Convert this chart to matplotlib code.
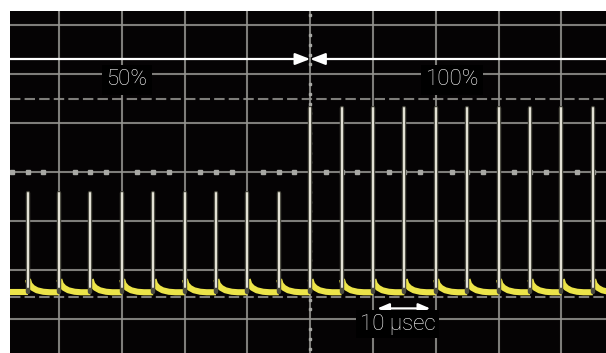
import matplotlib.pyplot as plt

# pulse train
# time in usec (1 division = 10 usec), levels in vertical divisions
pulse_times = [-45, -40, -35, -30, -25, -20, -15, -10, -5,
               0, 5, 10, 15, 20, 25, 30, 35, 40, 45]
pulse_peaks = [-0.43, -0.43, -0.43, -0.43, -0.43, -0.43, -0.43, -0.43, -0.43,
               1.31, 1.31, 1.31, 1.31, 1.31, 1.31, 1.31, 1.31, 1.31, 1.31]
baseline = -2.45

# decay tail after each spike (usec after pulse, divisions above baseline)
tail_dt = [0.05, 0.3, 0.8, 1.5, 2.5, 3.5]
tail_h = [0.26, 0.16, 0.09, 0.04, 0.01, 0.0]

x_grid = [-40, -30, -20, -10, 0, 10, 20, 30, 40]
y_grid = [-3, -2, -1, 0, 1, 2, 3]
ref_levels = [1.5, -2.55]

labels = ['50%', '100%']
label_x = [-29.2, 22.6]

fig = plt.figure(figsize=(6.06, 3.53), dpi=100)
fig.patch.set_facecolor('white')
ax = fig.add_axes([10 / 606, 0, 596 / 606, 342 / 353])
ax.set_facecolor('#050304')
ax.set_xlim(-47.8, 47.1)
ax.set_ylim(-3.69, 3.29)
ax.set_xticks([])
ax.set_yticks([])
for s in ax.spines.values():
    s.set_visible(False)

grid_col = '#949490'
for x in x_grid:
    ax.axvline(x, color=grid_col, lw=1.5, alpha=0.85, zorder=1)
for y in y_grid:
    ax.axhline(y, color=grid_col, lw=1.5, alpha=0.85, zorder=1)
for y in ref_levels:
    ax.axhline(y, color=grid_col, lw=1.5, alpha=0.85, ls=(0, (5, 2)), zorder=1)

# minor marks on the centre cross
hx = [i * 2.5 for i in range(-19, 19) if i % 4]
vy = [i * 0.2 for i in range(-18, 17) if i % 5]
ax.plot(hx, [0] * len(hx), ls='none', marker='s', ms=2.2,
        color='#a8a8a4', zorder=1)
ax.plot([0] * len(vy), vy, ls='none', marker='s', ms=2.0,
        color='#a8a8a4', zorder=1)

# yellow baseline with decay tails
yellow = '#ece449'
ax.plot([-48, pulse_times[0]], [baseline, baseline], color=yellow, lw=4.4,
        solid_capstyle='butt', zorder=3)
for t in pulse_times:
    xs = [t + d for d in tail_dt] + [t + 5]
    ys = [baseline + h for h in tail_h] + [baseline]
    ax.plot(xs, ys, color=yellow, lw=4.4, solid_capstyle='butt', zorder=3)

# fast rising edges look white on the phosphor
for t, p in zip(pulse_times, pulse_peaks):
    ax.plot([t, t], [baseline, p], color='#4a4a40', lw=3.2, zorder=4,
            solid_capstyle='round')
    ax.plot([t, t], [baseline + 0.1, p], color='#e2e0d4', lw=1.5, zorder=5,
            solid_capstyle='round')

# annotations
ax.plot([-48, -2.2], [2.31, 2.31], color='white', lw=1.6, zorder=6)
ax.plot([2.2, 48], [2.31, 2.31], color='white', lw=1.6, zorder=6)
ax.annotate('', xy=(0, 2.31), xytext=(-2.3, 2.31),
            arrowprops=dict(arrowstyle='-|>,head_length=0.9,head_width=0.35',
                            color='white', lw=1.6, shrinkA=0, shrinkB=0), zorder=6)
ax.annotate('', xy=(0, 2.31), xytext=(2.3, 2.31),
            arrowprops=dict(arrowstyle='-|>,head_length=0.9,head_width=0.35',
                            color='white', lw=1.6, shrinkA=0, shrinkB=0), zorder=6)

font = dict(family=['Roboto', 'Liberation Sans', 'DejaVu Sans'],
            weight='light', size=16)
for lab, x in zip(labels, label_x):
    ax.text(x, 1.89, lab, color='white', ha='center', va='center', zorder=7,
            bbox=dict(boxstyle='square,pad=0.2', fc='black', ec='none'),
            **font)

ax.annotate('', xy=(10.7, -2.78), xytext=(19.1, -2.78),
            arrowprops=dict(arrowstyle='<|-|>,head_length=0.7,head_width=0.3',
                            color='white', lw=1.6, shrinkA=0, shrinkB=0), zorder=6)
ax.text(13.9, -3.1, '10 \u00b5sec', color='white', ha='center', va='center',
        zorder=7, bbox=dict(boxstyle='square,pad=0.16', fc='black', ec='none'),
        **font)

fig.savefig('out.png', dpi=100, facecolor='white')
